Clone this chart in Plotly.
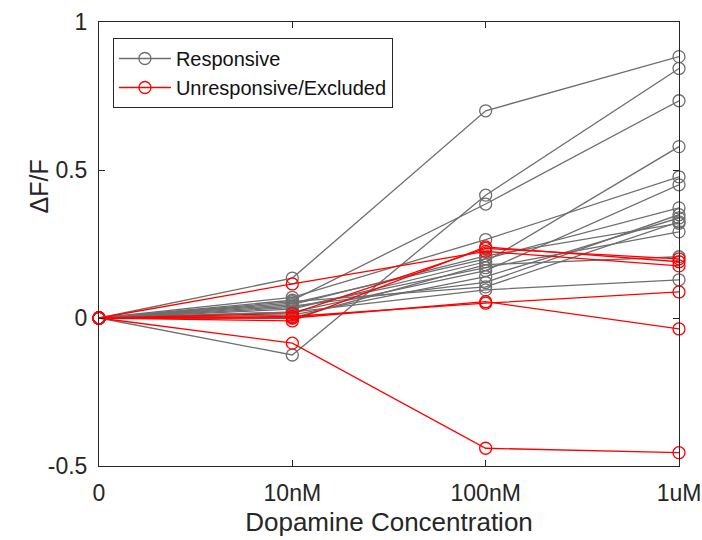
import plotly.graph_objects as go

# Concentration steps on the x axis
concentrations = ["0", "10nM", "100nM", "1uM"]
x_pos = [0, 1, 2, 3]

# dF/F traces for cells that responded to dopamine
responsive = [
    [0, 0.135, 0.70, 0.883],
    [0, -0.125, 0.415, 0.843],
    [0, 0.06, 0.385, 0.734],
    [0, 0.03, 0.19, 0.579],
    [0, 0.07, 0.265, 0.477],
    [0, 0.02, 0.16, 0.450],
    [0, 0.05, 0.20, 0.372],
    [0, 0.04, 0.12, 0.349],
    [0, 0.01, 0.14, 0.338],
    [0, 0.055, 0.105, 0.325],
    [0, 0.035, 0.17, 0.291],
    [0, 0.0, 0.18, 0.207],
    [0, 0.02, 0.095, 0.129],
    [0, 0.045, 0.21, 0.32],
]

# dF/F traces for unresponsive / excluded cells
unresponsive = [
    [0, -0.085, -0.44, -0.455],
    [0, 0.115, 0.225, 0.176],
    [0, -0.01, 0.24, 0.19],
    [0, 0.015, 0.235, 0.20],
    [0, 0.005, 0.05, 0.088],
    [0, 0.0, 0.055, -0.037],
]

GRAY = "#6e6e6e"
RED = "#ff0000"
FONT = "Liberation Sans, Arial, Helvetica, sans-serif"

fig = go.Figure()

def add_group(traces, color, name):
    for i, ys in enumerate(traces):
        fig.add_trace(go.Scatter(
            x=x_pos, y=ys, mode="lines+markers",
            line=dict(color=color, width=1.3),
            marker=dict(symbol="circle-open", size=12, color=color,
                        line=dict(width=1.3, color=color)),
            name=name, legendgroup=name, showlegend=(i == 0),
            cliponaxis=False,
        ))

add_group(responsive, GRAY, "Responsive")
add_group(unresponsive, RED, "Unresponsive/Excluded")

axis_common = dict(
    showline=True, linecolor="#262626", linewidth=1, mirror="ticks",
    ticks="inside", ticklen=6, tickcolor="#262626",
    showgrid=False, zeroline=False, automargin=False,
    tickfont=dict(family=FONT, size=23, color="#262626"),
)

fig.update_layout(
    width=702, height=540,
    margin=dict(l=99, r=23, t=22, b=74),
    paper_bgcolor="white", plot_bgcolor="white",
    font=dict(family=FONT, color="#262626"),
    xaxis=dict(range=[0, 3], tickvals=x_pos, ticktext=concentrations,
               ticklabelstandoff=6,
               title=dict(text="Dopamine Concentration", font=dict(size=26), standoff=8),
               **axis_common),
    yaxis=dict(range=[-0.5, 1], tickvals=[-0.5, 0, 0.5, 1],
               ticktext=["-0.5", "0", "0.5", "1"],
               ticklabelstandoff=6,
               **axis_common),
    legend=dict(x=0.024, y=0.964, xanchor="left", yanchor="top",
                bgcolor="white", bordercolor="#262626", borderwidth=1,
                font=dict(size=20, color="#111111"),
                tracegroupgap=0, itemwidth=52),
    showlegend=True,
)

# y-axis label sits beside the upper tick labels
fig.add_annotation(
    text="ΔF/F", textangle=-90, showarrow=False,
    xref="paper", yref="paper", x=-0.103, y=0.63,
    xanchor="center", yanchor="middle",
    font=dict(family=FONT, size=25, color="#262626"),
)

fig.write_html("out.html")
